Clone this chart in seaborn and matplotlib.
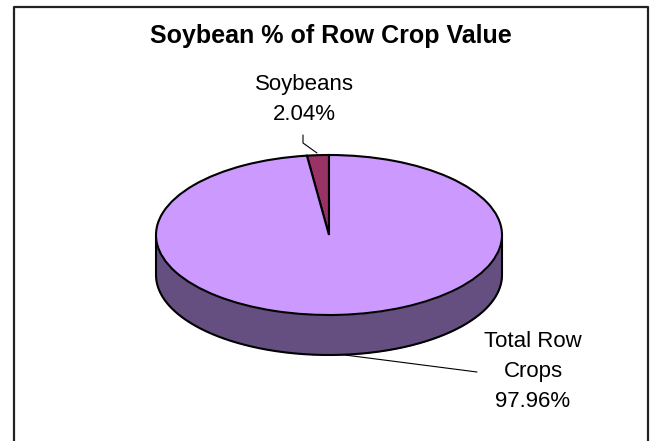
import numpy as np
import matplotlib
matplotlib.use("Agg")
import matplotlib.pyplot as plt
from matplotlib.lines import Line2D
import seaborn as sns

# ---- data ----
categories = ["Soybeans", "Total Row Crops"]
values = [2.04, 97.96]
pct_labels = ["2.04%", "97.96%"]
label_lines = [["Soybeans", "2.04%"], ["Total Row", "Crops", "97.96%"]]
title = "Soybean % of Row Crop Value"

top_colors = ["#993366", "#CC99FF"]
side_colors = ["#4D2640", "#654E80"]

sns.set_theme(style="white")
plt.rcParams["font.family"] = ["Liberation Sans", "DejaVu Sans"]

W, H = 651, 441
fig = plt.figure(figsize=(W / 100, H / 100), dpi=100)
fig.patch.set_facecolor("white")
ax = fig.add_axes([0, 0, 1, 1])

# pie geometry (pixels)
cx, cy, rx, ry, depth = 329, 235, 173, 80, 40

def to_data(px, py):
    return (px - cx) / rx, (cy - py) / ry

d = depth / ry

# side of the pie (front half) for each slice
fracs = np.array(values) / np.sum(values)
start = 90.0
bounds = []
for f in fracs:
    bounds.append((start, start + 360 * f))
    start += 360 * f
for (a0, a1), col in zip(bounds, side_colors):
    for k in (0, 360):
        lo = max(a0, 180 + k)
        hi = min(a1, 360 + k)
        if hi > lo:
            th = np.radians(np.linspace(lo, hi, 300))
            x = np.cos(th)
            y = np.sin(th)
            order = np.argsort(x)
            ax.fill_between(x[order], y[order] - d, y[order], color=col,
                            linewidth=0, zorder=1)
th = np.radians(np.linspace(180, 360, 400))
ax.plot(np.cos(th), np.sin(th) - d, color="black", lw=1.5, zorder=2)
ax.plot([-1, -1], [0, -d], color="black", lw=1.5, zorder=2)
ax.plot([1, 1], [0, -d], color="black", lw=1.5, zorder=2)

wedges, _ = ax.pie(values, colors=top_colors, startangle=90, counterclock=True,
                   radius=1, center=(0, 0),
                   wedgeprops=dict(edgecolor="black", linewidth=1.5, zorder=3))
for w in wedges:
    w.set_zorder(3)

ax.set_aspect("auto")
ax.set_xlim(-cx / rx, (W - cx) / rx)
ax.set_ylim((cy - H) / ry, cy / ry)
ax.axis("off")

# leader lines
p = [to_data(303, 135), to_data(303, 143), to_data(317, 153)]
ax.plot([q[0] for q in p], [q[1] for q in p], color="black", lw=0.8, zorder=4)
p = [to_data(345, 355), to_data(477, 372)]
ax.plot([q[0] for q in p], [q[1] for q in p], color="black", lw=0.8, zorder=4)

# labels
def put_lines(lines, xc, baseline0, step=30):
    for i, s in enumerate(lines):
        x, y = to_data(xc, baseline0 + i * step)
        ax.text(x, y, s, ha="center", va="baseline", fontsize=16,
                color="black", zorder=5)

put_lines(label_lines[0], 304, 90)
put_lines(label_lines[1], 533, 347)

# title
x, y = to_data(331, 36)
ax.text(x, y, title, ha="center", va="center", fontsize=18,
        fontweight="bold", color="black")

# chart area border (open at the bottom)
def fx(px):
    return px / W

def fy(py):
    return 1 - py / H

border = Line2D([fx(13.5), fx(13.5), fx(647.5), fx(647.5)],
                [fy(H + 5), fy(6.5), fy(6.5), fy(H + 5)],
                transform=fig.transFigure, color="#222222", lw=1.6)
fig.add_artist(border)

fig.savefig("out.png", dpi=100)
